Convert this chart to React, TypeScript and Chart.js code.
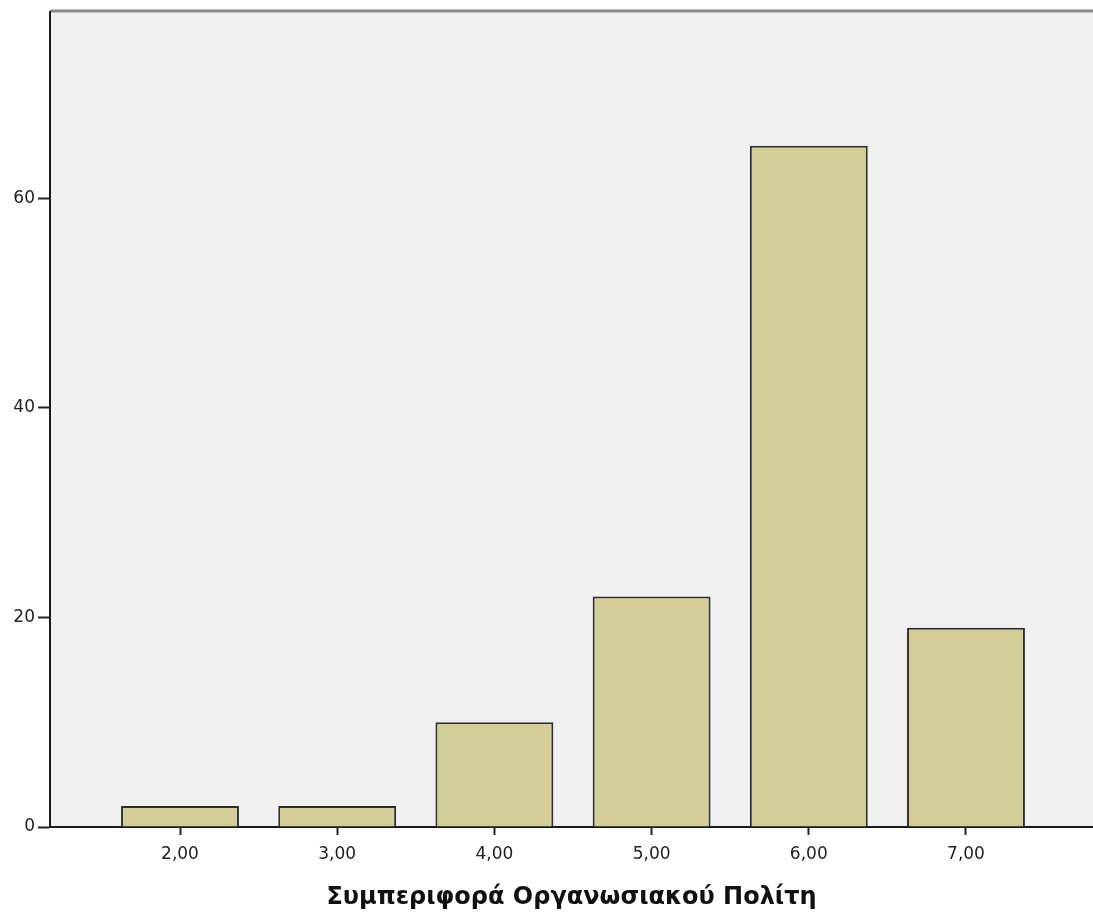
import React, { useEffect, useRef } from "react";
import { Chart, registerables } from "chart.js";

Chart.register(...registerables);

const categories: number[] = [2, 3, 4, 5, 6, 7];
const categoryLabels: string[] = ["2,00", "3,00", "4,00", "5,00", "6,00", "7,00"];
const counts: number[] = [2, 2, 10, 22, 65, 19];
const yTicks: number[] = [0, 20, 40, 60];
const xTitle = "Συμπεριφορά Οργανωσιακού Πολίτη";

const FONT = "'DejaVu Sans', sans-serif";

const bgPlugin = {
  id: "plotBg",
  beforeDraw(chart: any) {
    const { ctx, chartArea } = chart;
    if (!chartArea) return;
    ctx.save();
    ctx.fillStyle = "#f0f0f0";
    ctx.fillRect(chartArea.left, chartArea.top, chartArea.right - chartArea.left, chartArea.bottom - chartArea.top);
    ctx.strokeStyle = "#8a8a8a";
    ctx.lineWidth = 3;
    ctx.beginPath();
    ctx.moveTo(chartArea.left, chartArea.top - 0.5);
    ctx.lineTo(chartArea.right, chartArea.top - 0.5);
    ctx.stroke();
    ctx.restore();
  },
};

export default function App() {
  const ref = useRef<HTMLCanvasElement | null>(null);

  useEffect(() => {
    if (!ref.current) return;
    const chart = new Chart(ref.current, {
      type: "bar",
      data: {
        datasets: [
          {
            data: categories.map((c, i) => ({ x: c, y: counts[i] })),
            backgroundColor: "#d3ce97",
            borderColor: "#2e2e2e",
            borderWidth: 2,
            borderSkipped: "bottom",
            barPercentage: 0.75,
            categoryPercentage: 1,
          } as any,
        ],
      },
      plugins: [bgPlugin],
      options: {
        responsive: false,
        animation: false,
        layout: { padding: { top: 10, right: 0, left: 0, bottom: 0 } },
        plugins: {
          legend: { display: false },
          tooltip: { enabled: false },
        },
        scales: {
          x: {
            type: "linear",
            min: 1.173,
            max: 7.808,
            offset: false,
            afterFit: (scale: any) => {
              scale.height = 85;
            },
            afterBuildTicks: (scale: any) => {
              scale.ticks = categories.map((v) => ({ value: v }));
            },
            ticks: {
              callback: (v: any) => {
                const i = categories.indexOf(Number(v));
                return i >= 0 ? categoryLabels[i] : "";
              },
              color: "#222",
              font: { family: FONT, size: 17 },
              padding: 9,
              maxRotation: 0,
              autoSkip: false,
            },
            grid: {
              display: true,
              offset: false,
              drawOnChartArea: false,
              drawTicks: true,
              tickLength: 8,
              tickColor: "#222",
              tickWidth: 2,
            },
            border: { display: true, color: "#1a1a1a", width: 2 },
            title: {
              display: true,
              text: xTitle,
              color: "#111",
              font: { family: FONT, size: 24, weight: "bold" },
              padding: { top: 0, bottom: 0 },
            },
          },
          y: {
            type: "linear",
            min: 0,
            max: 77.8,
            afterFit: (scale: any) => {
              scale.width = 50;
            },
            afterBuildTicks: (scale: any) => {
              scale.ticks = yTicks.map((v) => ({ value: v }));
            },
            ticks: {
              color: "#222",
              font: { family: FONT, size: 17, lineHeight: 1 },
              padding: 3,
            },
            grid: {
              display: true,
              drawOnChartArea: false,
              drawTicks: true,
              tickLength: 12,
              tickColor: "#222",
              tickWidth: 2,
            },
            border: { display: true, color: "#1a1a1a", width: 2 },
          },
        },
      },
    });
    return () => chart.destroy();
  }, []);

  return (
    <div style={{ position: "absolute", left: 0, top: 0, width: 1093, height: 912, background: "#fff" }}>
      <canvas ref={ref} width={1093} height={912} style={{ display: "block" }} />
    </div>
  );
}
